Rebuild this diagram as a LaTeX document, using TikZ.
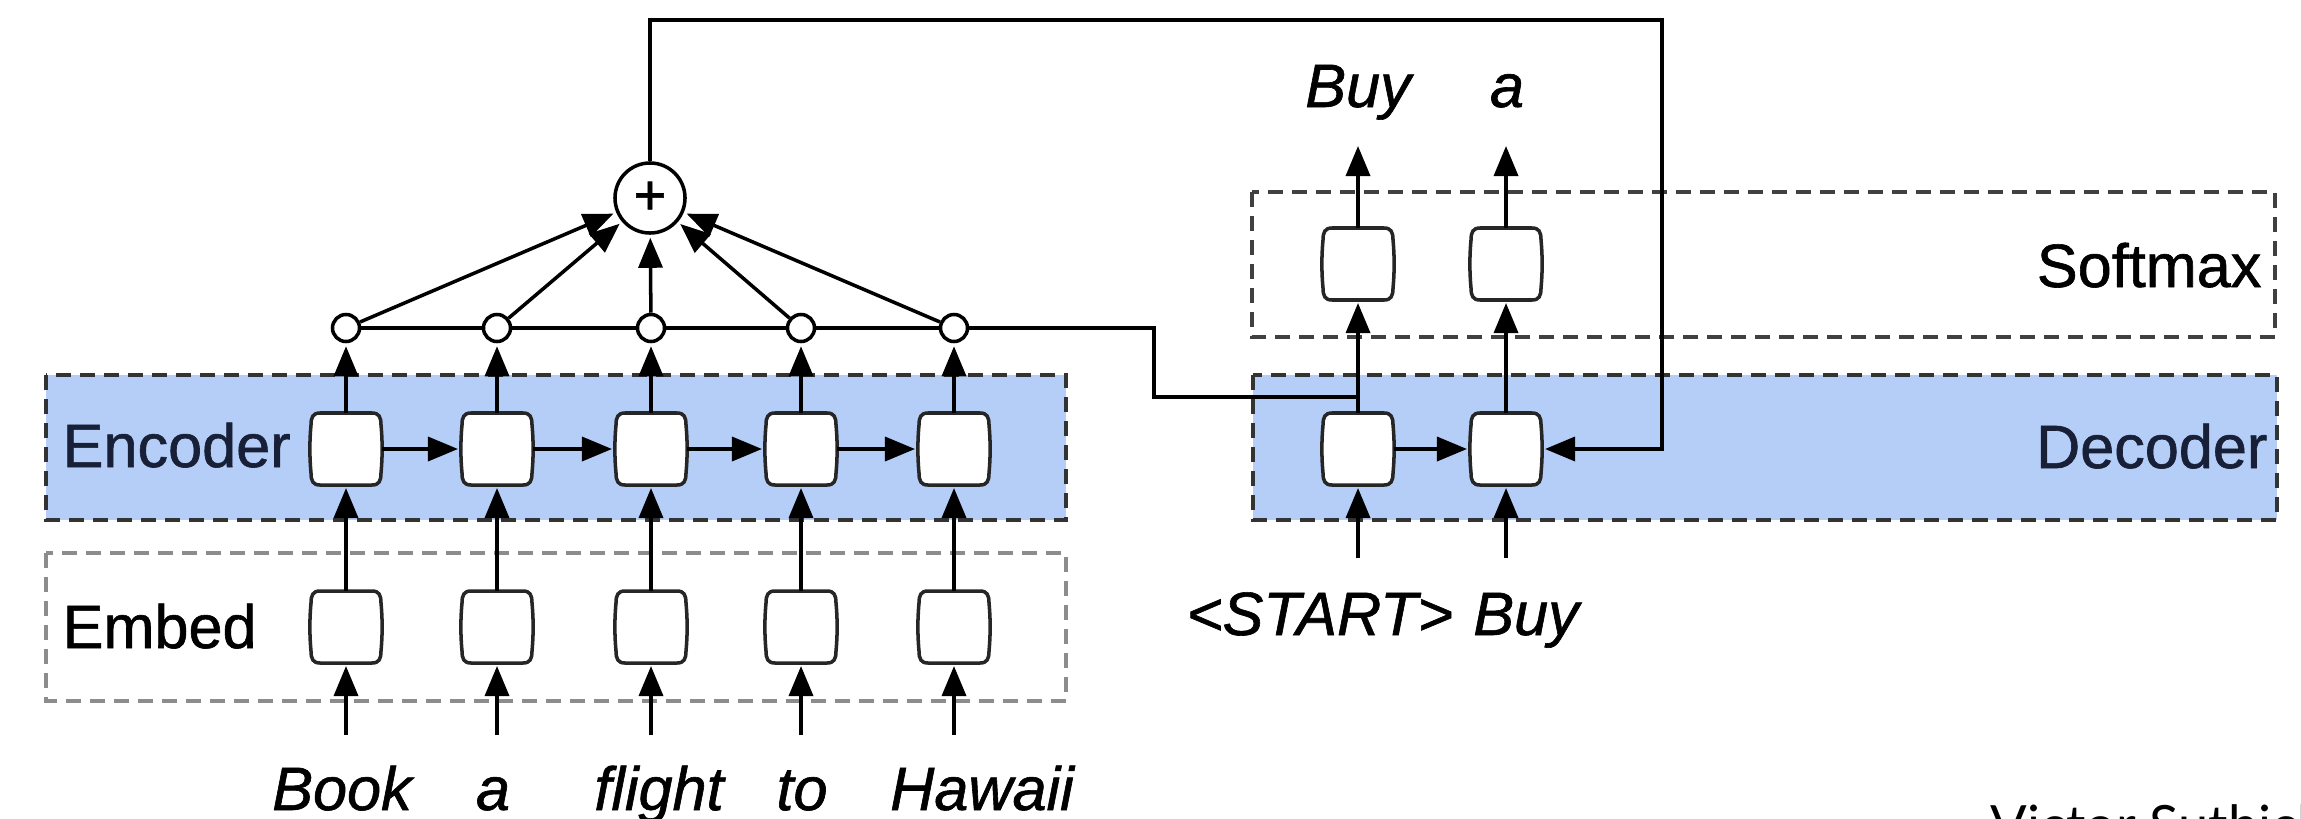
\documentclass[tikz,border=0pt]{standalone}
\usepackage{fontspec}
\setmainfont{Liberation Sans}[FakeBold=1]
\newfontfamily\signfont{Lato}
\usetikzlibrary{arrows.meta}

\definecolor{bandblue}{RGB}{181,206,247}
\definecolor{inkblue}{RGB}{24,32,56}

\tikzset{
  wire/.style={line width=1pt, draw=black},
  arr/.style={wire, -{Triangle[length=0.30cm,width=0.24cm]}, shorten >=0.03cm},
  cellbox/.style={rectangle, minimum width=0.72cm, minimum height=0.72cm, inner sep=0pt, outer sep=0pt},
  cellline/.style={line width=1pt, draw=black!85, fill=white},
  tap/.style={circle, draw, line width=1pt, fill=white, minimum size=0.27cm, inner sep=0pt},
  sumnode/.style={circle, draw, line width=1pt, fill=white, minimum size=0.70cm, inner sep=0pt,
                  font=\fontsize{16}{18}\selectfont},
  bandline/.style={line width=1.2pt, dash pattern=on 0.15cm off 0.09cm},
  lbl/.style={font=\fontsize{17.4}{20}\selectfont, inner sep=0pt},
  word/.style={font=\fontsize{17.4}{20}\selectfont\itshape, inner sep=0pt, anchor=base},
}

% a recurrent cell: named box plus its barrel-shaped outline
\newcommand\cellat[2]{%
  \node[cellbox] (#1) at (#2) {};
  \draw[cellline, shift={(#1.center)}]
    (-26,-36) -- (26,-36) .. controls (33,-36) and (35,-32) .. (35,-24)
    .. controls (36.5,-8) and (36.5,8) .. (35,24)
    .. controls (35,32) and (33,36) .. (26,36) -- (-26,36)
    .. controls (-33,36) and (-35,32) .. (-35,24)
    .. controls (-36.5,8) and (-36.5,-8) .. (-35,-24)
    .. controls (-35,-32) and (-33,-36) .. (-26,-36) -- cycle;}

\begin{document}
\begin{tikzpicture}[x=0.01cm, y=-0.01cm]
\useasboundingbox (0,0) rectangle (2301,818);
\fill[white] (0,0) rectangle (2301,818);

% layer bands
\draw[bandline, draw=black!80, fill=bandblue] (46,375) rectangle (1066,520);
\draw[bandline, draw=black!45] (46,553) rectangle (1066,701);
\draw[bandline, draw=black!75] (1252,192) rectangle (2275,337);
\draw[bandline, draw=black!80, fill=bandblue] (1253,375) rectangle (2277,520);

% layer names
\node[lbl, anchor=base west, text=inkblue] (encLbl) at (62,467) {Encoder};
\node[lbl, anchor=base west] (embLbl) at (62,648) {Embed};
\node[lbl, anchor=base east] (softLbl) at (2262,287) {Softmax};
\node[lbl, anchor=base east, text=inkblue] (decLbl) at (2268,468) {Decoder};

% encoder side
\foreach \i/\x in {1/346,2/497,3/651,4/801,5/954} {
  \cellat{emb\i}{\x,627}
  \cellat{enc\i}{\x,449}
  \node[tap] (tap\i) at (\x,328) {};
  \coordinate (in\i) at (\x,735);
}
\node[sumnode] (sum) at (650,198) {+};

\foreach \i in {1,...,5} {
  \draw[arr] (in\i) -- (emb\i.south);
  \draw[arr] (emb\i.north) -- (enc\i.south);
  \draw[arr] (enc\i.north) -- (tap\i.south);
  \draw[arr] (tap\i) -- (sum);
}
\foreach \i/\j in {1/2,2/3,3/4,4/5} {
  \draw[arr] (enc\i.east) -- (enc\j.west);
  \draw[wire] (tap\i.east) -- (tap\j.west);
}

% input words
\node[word] (wBook) at (342,810) {Book};
\node[word] (wA) at (493,810) {a};
\node[word] (wFlight) at (659,810) {flight};
\node[word] (wTo) at (802,810) {to};
\node[word] (wHawaii) at (982,810) {Hawaii};

% decoder side
\cellat{dec1}{1358,449}
\cellat{dec2}{1506,449}
\cellat{soft1}{1358,264}
\cellat{soft2}{1506,264}
\coordinate (din1) at (1358,558);
\coordinate (din2) at (1506,558);
\coordinate (dout1) at (1358,143);
\coordinate (dout2) at (1506,143);

\draw[arr] (din1) -- (dec1.south);
\draw[arr] (din2) -- (dec2.south);
\draw[arr] (dec1.north) -- (soft1.south);
\draw[arr] (dec2.north) -- (soft2.south);
\draw[arr] (soft1.north) -- (dout1);
\draw[arr] (soft2.north) -- (dout2);
\draw[arr] (dec1.east) -- (dec2.west);

% encoder states routed into the decoder
\coordinate (jogA) at (1154,328);
\coordinate (jogB) at (1154,397);
\draw[wire] (tap5.east) -- (jogA) -- (jogB) -- (jogB -| dec1.north);

% attention context fed back into the decoder
\coordinate (loopR) at (1662,20);
\draw[arr] (sum.north) |- (loopR) -- (loopR |- dec2.east) -- (dec2.east);

% decoder words
\node[word] (oBuy) at (1358,107) {Buy};
\node[word] (oA) at (1507,107) {a};
\node[word] (dStart) at (1320,635) {\textless START\textgreater};
\node[word] (dBuy) at (1526,635) {Buy};

% signature
\begin{scope}
  \clip (0,0) rectangle (2301,818);
  \node[font=\signfont\fontsize{15.4}{18}\selectfont, anchor=base west, inner sep=0pt] (sig)
    at (1990,844) {Victor Suthich};
\end{scope}
\end{tikzpicture}
\end{document}
